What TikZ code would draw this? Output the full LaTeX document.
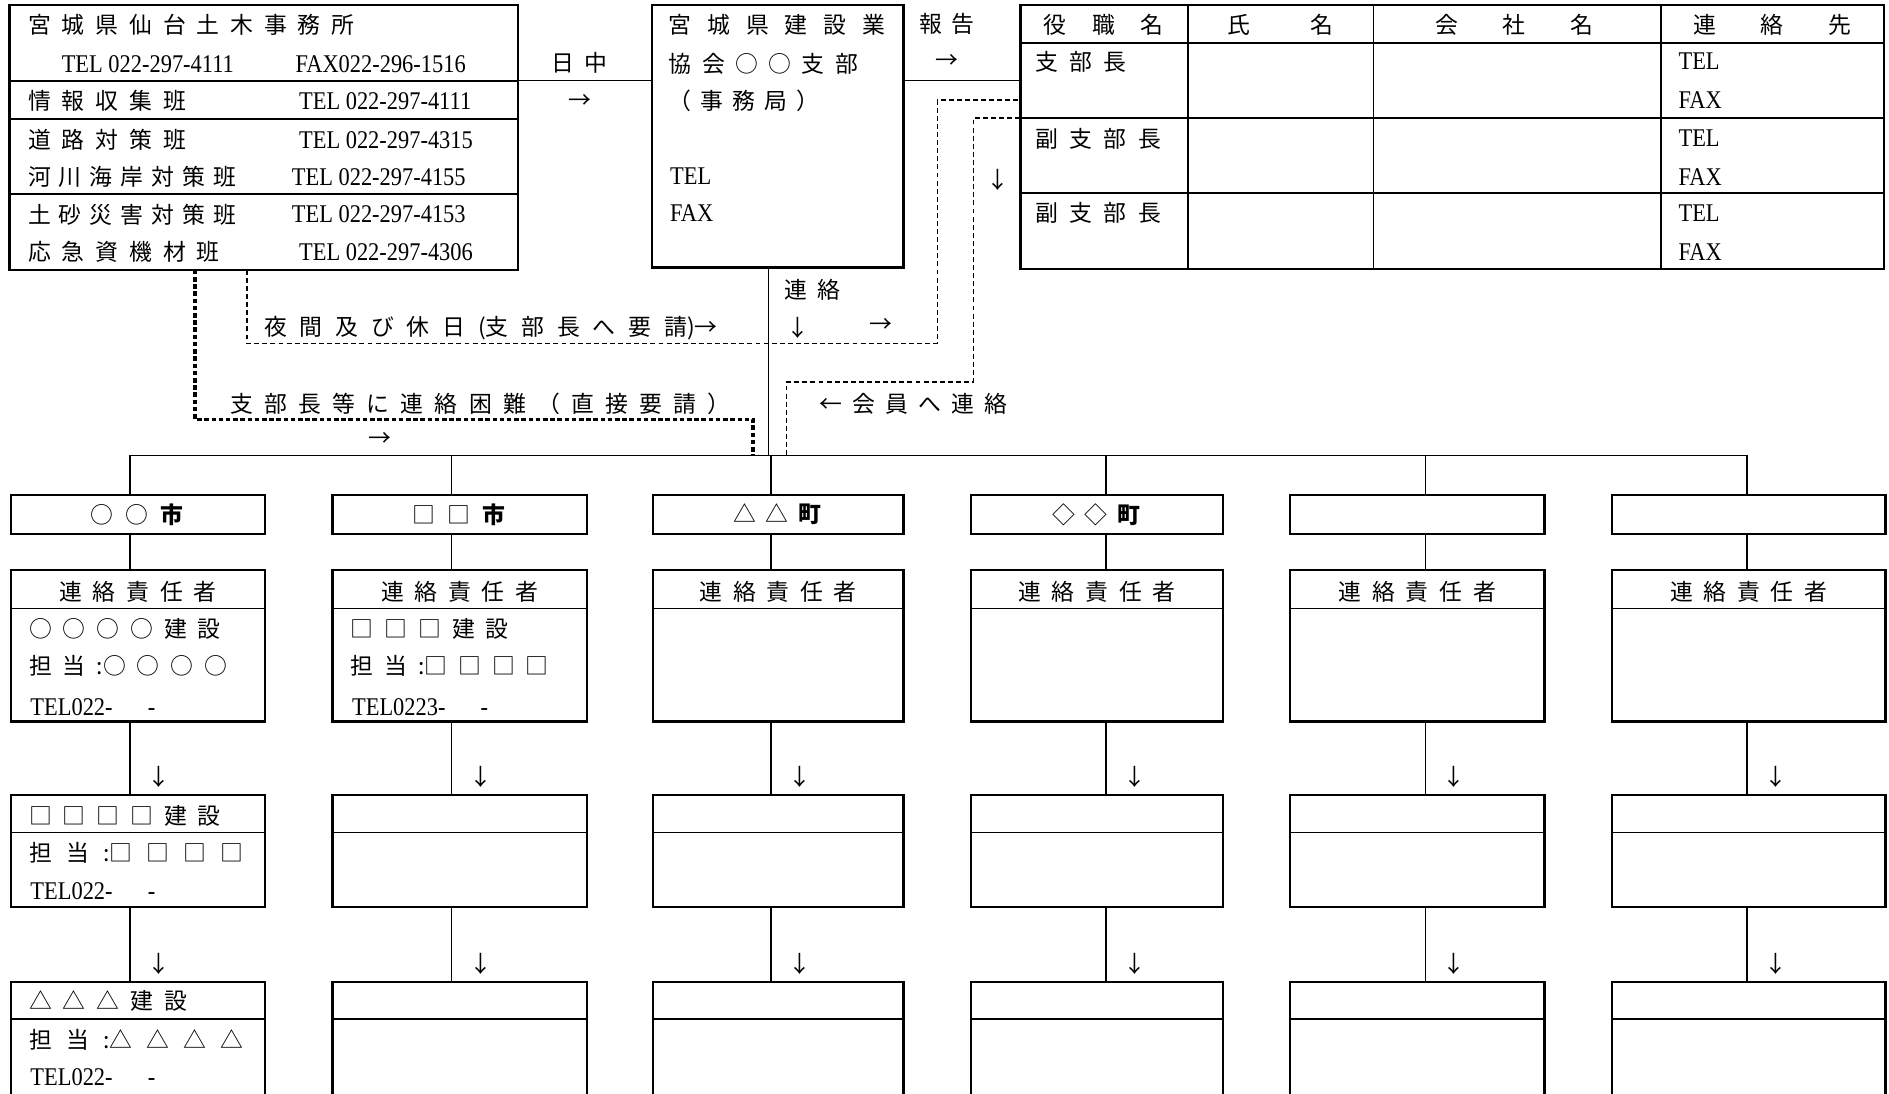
\documentclass[tikz,border=0pt]{standalone}
\usepackage{fontspec}
\setmainfont{Liberation Serif}[FakeStretch=0.88]
\newfontfamily\jpf{Noto Sans CJK JP}
\newcommand\setgap[1]{\spaceskip=#1\relax}
\usetikzlibrary{fit, positioning}

\begin{document}
\begin{tikzpicture}[
  x=0.0241cm, y=-0.0241cm,
  box/.style={draw, line width=1.3pt, inner sep=0pt, outer sep=0pt},
  jp/.style={font=\jpf\fontsize{13}{15}\selectfont, execute at begin node={\setgap{#1}}, inner sep=0pt},
  jp/.default=6pt,
  en/.style={font=\fontsize{14.5}{16}\selectfont, inner sep=0pt},
  conn/.style={line width=0.8pt},
  rule/.style={line width=1pt},
  dsh/.style={line width=0.85pt, dash pattern=on 2.8pt off 1.8pt},
  dots/.style={line width=1.9pt, dash pattern=on 2.6pt off 1.5pt}
]
\useasboundingbox (0,0) rectangle (1568,908);

% --- 仙台土木事務所
\node[box, fit={(8,4) (430,224)}] (office) {};
\draw[rule] (office.west |- 0,67) -- (office.east |- 0,67);
\draw[rule] (office.west |- 0,99) -- (office.east |- 0,99);
\draw[rule] (office.west |- 0,161) -- (office.east |- 0,161);
\node[jp=6.2pt, anchor=west] (otitle) at (23,21) {宮 城 県 仙 台 土 木 事 務 所};
\node[en, anchor=west] (otel) at (51,53) {TEL 022-297-4111};
\node[en, anchor=west] (ofax) at (245,53) {FAX022-296-1516};
\foreach \name/\num/\yy/\xx/\sk [count=\i] in {情 報 収 集 班/4111/84/248/6.2pt, 道 路 対 策 班/4315/116/248/6.2pt,
    河 川 海 岸 対 策 班/4155/147/242/4.6pt, 土 砂 災 害 対 策 班/4153/178/242/4.6pt, 応 急 資 機 材 班/4306/209/248/6.2pt} {
  \node[jp=\sk, anchor=west] (sec\i) at (23,\yy) {\name};
  \node[en, anchor=west] (stel\i) at (\xx,\yy) {TEL 022-297-\num};
}

% --- 建設業協会
\node[box, fit={(541,4) (750,222)}] (kyokai) {};
\node[jp=9pt, anchor=west] (k1) at (555,21) {宮 城 県 建 設 業};
\node[jp=5.9pt, anchor=west] (k2) at (555,53) {協 会 ○ ○ 支 部};
\node[jp=5.2pt, anchor=west] (k3) at (555,84) {（ 事 務 局 ）};
\node[en, anchor=west] (k4) at (556,146) {TEL};
\node[en, anchor=west] (k5) at (556,177) {FAX};

\draw[conn] (office.east |- 0,67) -- (kyokai.west |- 0,67);
\node[jp=5.5pt] (day) at (481,52) {日 中};
\node[jp] (dayar) at (481,84) {→};

% --- 支部役員表
\node[box, fit={(847,4) (1564,223)}] (tab) {};
\foreach \yy in {36,98,160}
  \draw[rule] (tab.west |- 0,\yy) -- (tab.east |- 0,\yy);
\foreach \xx in {986,1140,1379}
  \draw[rule] (tab.north -| \xx,0) -- (tab.south -| \xx,0);
\node[jp=14.5pt] (h1) at (916,21) {役 職 名};
\node[jp=34.5pt] (h2) at (1063,21) {氏 名};
\node[jp=25.5pt] (h3) at (1257,21) {会 社 名};
\node[jp=25.5pt] (h4) at (1471,21) {連 絡 先};
\foreach \role/\yy [count=\i] in {支 部 長/51, 副 支 部 長/115, 副 支 部 長/177} {
  \node[jp=6.5pt, anchor=west] (role\i) at (859,\yy) {\role};
  \node[en, anchor=west] (ttel\i) at (1393,\yy) {TEL};
  \node[en, anchor=west] (tfax\i) at (1393,\yy+32) {FAX};
}

\draw[conn] (kyokai.east |- 0,67) -- (tab.west |- 0,67);
\node[jp=5.5pt] (rep) at (786,20) {報 告};
\node[jp] (repar) at (786,51) {→};

% --- 連絡経路
\coordinate (hub) at (638,378);
\coordinate (mem) at (653,378);
\coordinate (req) at (625,378);
\draw[conn] (kyokai.south -| hub) -- (hub);
\draw[dsh] (office.south -| 205,0) |- (778,285) |- (tab.west |- 0,83);
\draw[dsh] (tab.west |- 0,98) -| (808,317) -| (mem);
\draw[dots] (office.south -| 162,0) |- (625,348) -- (req);

\node[jp=7.3pt, anchor=west] (night) at (219,272) {夜 間 及 び 休 日 (支 部 長 へ 要 請)→};
\node[jp=5.5pt, anchor=west] (link) at (651,241) {連 絡};
\node[jp] (linkar) at (662,272) {↓};
\node[jp] (nightar) at (731,270) {→};
\node[jp] (tabar) at (828,149) {↓};
\node[jp=6.4pt, anchor=west] (direct) at (191,335) {支 部 長 等 に 連 絡 困 難 （ 直 接 要 請 ）};
\node[jp] (directar) at (315,365) {→};
\node[jp=5.8pt, anchor=west] (member) at (680,335) {← 会 員 へ 連 絡};

% --- 市町村ごとの連絡先
\foreach \i/\l/\r/\c in {1/9/220/108, 2/276/487/375, 3/542/750/640, 4/806/1015/918, 5/1071/1282/1183, 6/1338/1565/1450} {
  \coordinate (b\i) at (\c,378);
  \node[box, fit={(\l,411) (\r,443)}] (city\i) {};
  \node[box, fit={(\l,473) (\r,599)}] (mgr\i) {};
  \node[box, fit={(\l,660) (\r,753)}] (suba\i) {};
  \node[box, fit={(\l,815) (\r,940)}] (subb\i) {};
  \draw[rule] (mgr\i.west |- 0,505) -- (mgr\i.east |- 0,505);
  \draw[rule] (suba\i.west |- 0,691) -- (suba\i.east |- 0,691);
  \draw[rule] (subb\i.west |- 0,846) -- (subb\i.east |- 0,846);
  \draw[conn] (b\i) -- (b\i |- city\i.north);
  \draw[conn] (b\i |- city\i.south) -- (b\i |- mgr\i.north);
  \draw[conn] (b\i |- mgr\i.south) -- (b\i |- suba\i.north);
  \draw[conn] (b\i |- suba\i.south) -- (b\i |- subb\i.north);
  \node[jp=6.1pt] (head\i) at (mgr\i.north |- 0,491) {連 絡 責 任 者};
  \node[jp] (dna\i) at (\c+24,645) {↓};
  \node[jp] (dnb\i) at (\c+24,800) {↓};
}
\draw[conn] (b1) -- (b6);

\node[jp=6.9pt] (cn1) at (114,427) {○ ○ \textbf{市}};
\node[jp=6.9pt] (cn2) at (381,427) {□ □ \textbf{市}};
\node[jp=5.5pt] (cn3) at (645,427) {△ △ \textbf{町}};
\node[jp=5.5pt] (cn4) at (910,427) {◇ ◇ \textbf{町}};

\node[jp=6.2pt, anchor=west] (m1a) at (24,522) {○ ○ ○ ○ 建 設};
\node[jp=6.2pt, anchor=west] (m1b) at (24,553) {担 当 :○ ○ ○ ○};
\node[en, anchor=west] (m1c) at (25,587) {TEL022-\hspace{20pt}-};
\node[jp=6.2pt, anchor=west] (m2a) at (291,522) {□ □ □ 建 設};
\node[jp=6.2pt, anchor=west] (m2b) at (291,553) {担 当 :□ □ □ □};
\node[en, anchor=west] (m2c) at (292,587) {TEL0223-\hspace{20pt}-};

\node[jp=6.2pt, anchor=west] (a1a) at (24,677) {□ □ □ □ 建 設};
\node[jp=8pt, anchor=west] (a1b) at (24,708) {担 当 :□ □ □ □};
\node[en, anchor=west] (a1c) at (25,740) {TEL022-\hspace{20pt}-};
\node[jp=6.2pt, anchor=west] (b1a) at (24,831) {△ △ △ 建 設};
\node[jp=8pt, anchor=west] (b1b) at (24,863) {担 当 :△ △ △ △};
\node[en, anchor=west] (b1c) at (25,894) {TEL022-\hspace{20pt}-};
\end{tikzpicture}
\end{document}
